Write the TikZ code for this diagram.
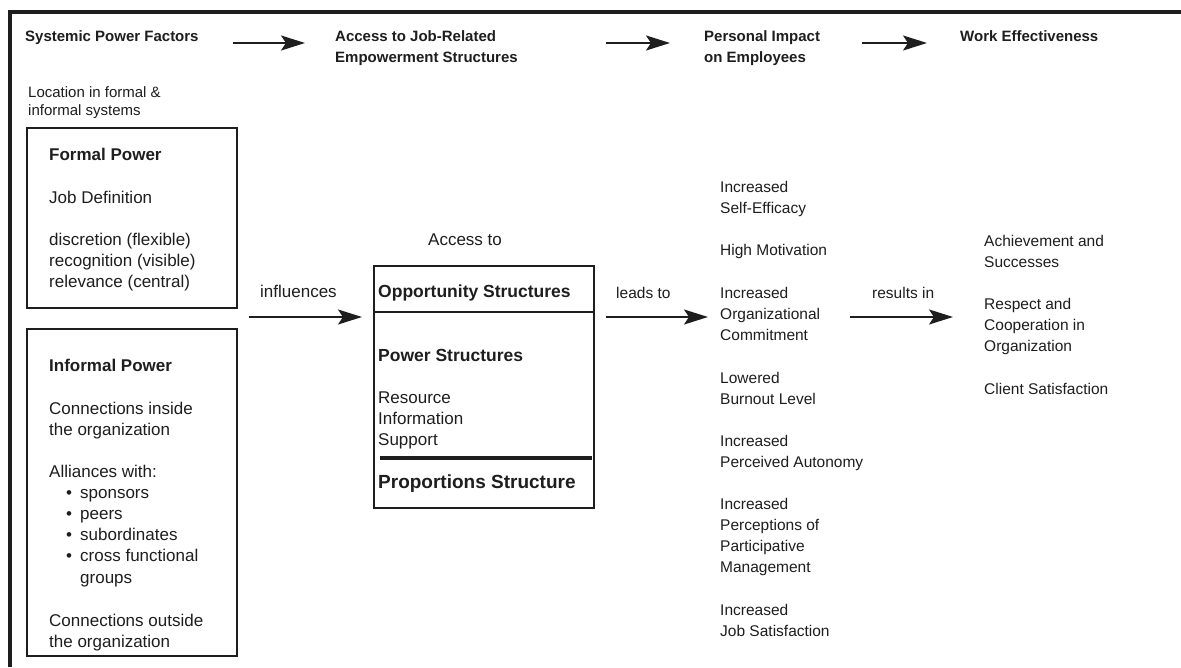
\documentclass[tikz,border=0pt]{standalone}
\usepackage{fontspec}
\setmainfont{Liberation Sans}
\usetikzlibrary{arrows.meta}
\definecolor{ink}{RGB}{30,30,30}
\begin{document}
\begin{tikzpicture}[x=1pt,y=-1pt,
  txt/.style={anchor=base west, inner sep=0pt, align=left, text=ink},
  head/.style={txt, font=\bfseries\fontsize{15}{21.5}\selectfont},
  body/.style={txt, font=\fontsize{17}{21.2}\selectfont},
  bbold/.style={txt, font=\bfseries\fontsize{17.5}{21.2}\selectfont},
  rbody/.style={txt, font=\fontsize{15.5}{21}\selectfont},
  bx/.style={draw=ink, line width=1.8pt, inner sep=0pt, anchor=north west},
  arr/.style={draw=ink, line width=2pt, -{Stealth[length=24pt,width=15pt,inset=5pt]}}]
\useasboundingbox (0,0) rectangle (1181,667);
\fill[white] (0,0) rectangle (1181,667);
% frame
\draw[ink, line width=4pt] (10,667) -- (10,12) -- (1181,12);

% headings (base anchor = baseline of last line)
\node[head] (sys)  at (25,41)    {Systemic Power Factors};
\node[head] (acc)  at (335,62.5) {Access to Job-Related\\Empowerment Structures};
\node[head] (per)  at (704,62.5) {Personal Impact\\on Employees};
\node[head] (work) at (960,41)   {Work Effectiveness};
\draw[arr] ([xshift=208pt,yshift=-2pt]sys.base west) -- ([xshift=-30pt,yshift=-2pt]sys.base west -| acc.west);
\draw[arr] ([xshift=271pt,yshift=-2pt]sys.base west -| acc.west) -- ([xshift=-34pt,yshift=-2pt]sys.base west -| per.west);
\draw[arr] ([xshift=158pt,yshift=-2pt]sys.base west -| per.west) -- ([xshift=-33pt,yshift=-2pt]work.base west);

% left column
\node[txt, font=\fontsize{15}{18.5}\selectfont] (loc) at (28,115.5) {Location in formal \&\\informal systems};

\node[bx, minimum width=210pt, minimum height=180pt] (formal) at (26,127) {};
\node[bbold, font=\bfseries\fontsize{17}{21.2}\selectfont] (fp) at (49,160) {Formal Power};
\node[body] (jd) at (49,203) {Job Definition};
\node[body] (drr) at (49,287.4) {discretion (flexible)\\recognition (visible)\\relevance (central)};

\node[bx, minimum width=210pt, minimum height=327pt] (informal) at (26,328) {};
\node[bbold, font=\bfseries\fontsize{17}{21.2}\selectfont] (ip) at (49,371) {Informal Power};
\node[body] (ci) at (49,435.2) {Connections inside\\the organization};
\node[body] (al) at (49,583) {Alliances with:\\
\hspace*{17pt}\makebox[14pt][l]{•}sponsors\\
\hspace*{17pt}\makebox[14pt][l]{•}peers\\
\hspace*{17pt}\makebox[14pt][l]{•}subordinates\\
\hspace*{17pt}\makebox[14pt][l]{•}cross functional\\
\hspace*{31pt}groups};
\node[body] (co) at (49,647.2) {Connections outside\\the organization};

% middle
\coordinate (rowY) at (0,317);
\node[body] (infl) at (260,297) {influences};
\node[body] (accto) at (428,245) {Access to};
\node[bx, minimum width=220pt, minimum height=242pt] (accbox) at (373,265) {};
\draw[ink, line width=1.8pt] ([yshift=-47pt]accbox.north west) -- ([yshift=-47pt]accbox.north east);
\draw[ink, line width=3.5pt] ([xshift=7pt,yshift=-193pt]accbox.north west) -- ([xshift=-3pt,yshift=-193pt]accbox.north east);
\node[bbold] (opp) at (378,297) {Opportunity Structures};
\node[bbold] (pow) at (378,361) {Power Structures};
\node[body] (ris) at (378,445.4) {Resource\\Information\\Support};
\node[txt, font=\bfseries\fontsize{19}{22}\selectfont] (prop) at (378,488) {Proportions Structure};
\draw[arr, shorten <=11pt, shorten >=11pt] (formal.east |- rowY) -- (accbox.west |- rowY);

% personal impact list
\node[rbody] (se)  at (720,213) {Increased\\Self-Efficacy};
\node[rbody] (hm)  at (720,255) {High Motivation};
\node[rbody] (oc)  at (720,340) {Increased\\Organizational\\Commitment};
\node[rbody] (bl)  at (720,404) {Lowered\\Burnout Level};
\node[rbody] (pa)  at (720,467) {Increased\\Perceived Autonomy};
\node[rbody] (pm)  at (720,572) {Increased\\Perceptions of\\Participative\\Management};
\node[rbody] (js)  at (720,636) {Increased\\Job Satisfaction};
\node[rbody] (leads) at (616,298) {leads to};
\draw[arr, shorten <=11pt, shorten >=12pt] (accbox.east |- rowY) -- (oc.west |- rowY);

% work effectiveness list
\node[rbody] (as)  at (984,267) {Achievement and\\Successes};
\node[rbody] (rc)  at (984,351) {Respect and\\Cooperation in\\Organization};
\node[rbody] (cs)  at (984,394) {Client Satisfaction};
\node[rbody] (res) at (872,298) {results in};
\draw[arr, shorten <=130pt, shorten >=31pt] (oc.west |- rowY) -- (rc.west |- rowY);
\end{tikzpicture}
\end{document}
